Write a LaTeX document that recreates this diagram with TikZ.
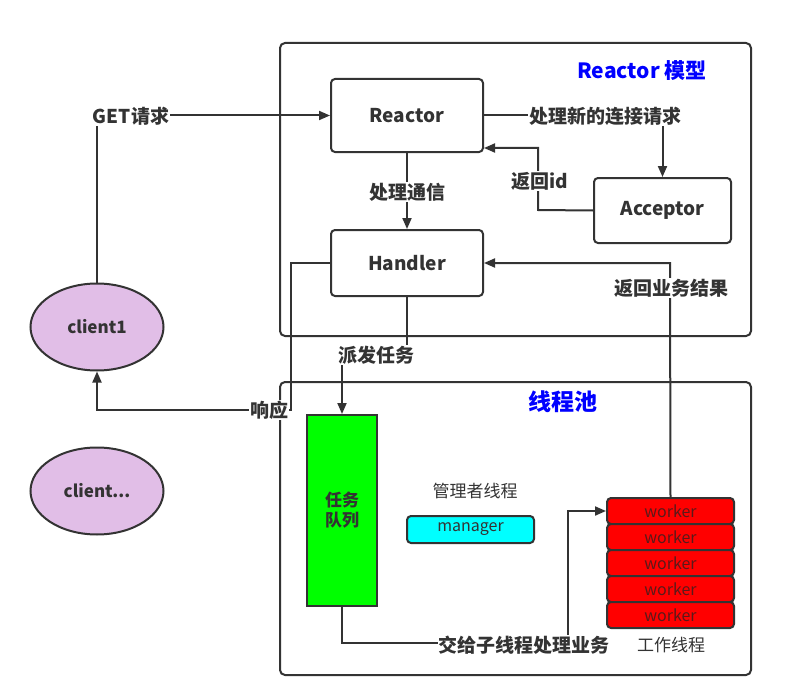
\documentclass[tikz,border=0pt]{standalone}
\usepackage{fontspec}
\setmainfont{Noto Sans CJK SC}
\usetikzlibrary{arrows.meta,shapes.geometric}
\definecolor{ln}{HTML}{333333}
\definecolor{lav}{HTML}{E1BEE7}
\definecolor{wtxt}{HTML}{5A1A1A}
\definecolor{cy}{HTML}{00FFFF}
\definecolor{gr}{HTML}{00FF00}
\definecolor{rd}{HTML}{FF0000}
\definecolor{bl}{HTML}{0000FF}
\tikzset{
  box/.style={draw=ln, line width=2pt, rounded corners=4pt, fill=white, font=\fontsize{19}{21}\selectfont\bfseries, text=ln},
  frame/.style={draw=ln, line width=2pt, rounded corners=5pt},
  conn/.style={draw=ln, line width=2pt, -{Triangle[length=11pt,width=9pt]}},
  lbl/.style={fill=white, inner sep=1pt, font=\fontsize{19}{21}\selectfont\bfseries, text=ln},
  title/.style={font=\fontsize{21}{23}\selectfont\bfseries, text=bl},
  cli/.style={ellipse, draw=ln, line width=2pt, fill=lav, minimum width=133pt, minimum height=87pt, font=\fontsize{17}{19}\selectfont\bfseries, text=ln},
  wk/.style={draw=ln, line width=2pt, rounded corners=4pt, fill=rd, minimum width=127pt, minimum height=26pt, inner sep=0pt, font=\fontsize{16}{18}\selectfont, text=wtxt},
  note/.style={font=\fontsize{17}{19}\selectfont, text=ln}
}
\begin{document}
\begin{tikzpicture}[x=1pt,y=-1pt]
\useasboundingbox (0,0) rectangle (807,693);
% frames
\draw[frame] (280,43) rectangle (751,336);
\draw[frame] (280,382) rectangle (751,675);
\node[title] (t1) at (642,71) {Reactor 模型};
\node[title, font=\fontsize{23}{25}\selectfont\bfseries] (t2) at (563,402) {线程池};
% main nodes
\node[box, minimum width=152pt, minimum height=73pt] (reactor) at (407,115.5) {Reactor};
\node[box, minimum width=152pt, minimum height=66pt] (handler) at (407,263) {Handler};
\node[box, minimum width=137pt, minimum height=65pt] (acceptor) at (662.5,210.5) {Acceptor};
\node[draw=ln, line width=2pt, fill=gr, minimum width=70pt, minimum height=191pt, inner sep=0pt, align=center, font=\fontsize{17}{20}\selectfont\bfseries, text=ln] (queue) at (342,510.5) {任务\\队列};
\node[note] (mgrlbl) at (475,491) {管理者线程};
\node[draw=ln, line width=2pt, rounded corners=4pt, fill=cy, minimum width=127pt, minimum height=27pt, inner sep=0pt, font=\fontsize{16}{18}\selectfont, text=ln] (manager) at (470.5,529.5) {manager};
\node[wk] (w1) at (670.5,511) {worker};
\node[wk] (w2) at (670.5,537) {worker};
\node[wk] (w3) at (670.5,563) {worker};
\node[wk] (w4) at (670.5,589) {worker};
\node[wk] (w5) at (670.5,615) {worker};
\node[note] (wklbl) at (671,645) {工作线程};
\node[cli] (c1) at (97,327) {client1};
\node[cli] (c2) at (97,491) {client...};
% connectors
\draw[conn] (c1.north) |- (reactor.west);
\draw[conn] (reactor.east) -| (acceptor.north);
\draw[conn] (acceptor.west) -- (538,210) -- (538,148) -- (reactor.south east |- 0,148);
\draw[conn] (reactor.south) -- (handler.north);
\draw[conn] (handler.south) -- (407,355) -- (342,355) -- (queue.north);
\draw[conn] (handler.west) -- (291,263) -- (291,410) -- (97,410) -- (c1.south);
\draw[conn] (w1.north) -- (670,263) -- (handler.east);
\draw[conn] (queue.south) -- (342,643) -- (568,643) -- (568,511) -- (w1.west);
% labels
\node[lbl] (lget) at (131,116) {GET请求};
\node[lbl] (lnew) at (605,116) {处理新的连接请求};
\node[lbl] (lid) at (540,181) {返回id};
\node[lbl] (lcomm) at (407,192) {处理通信};
\node[lbl] (ldisp) at (376,355) {派发任务};
\node[lbl] (lresp) at (269,410) {响应};
\node[lbl] (lres) at (671,288) {返回业务结果};
\node[lbl] (lsub) at (524,645) {交给子线程处理业务};
\end{tikzpicture}
\end{document}
